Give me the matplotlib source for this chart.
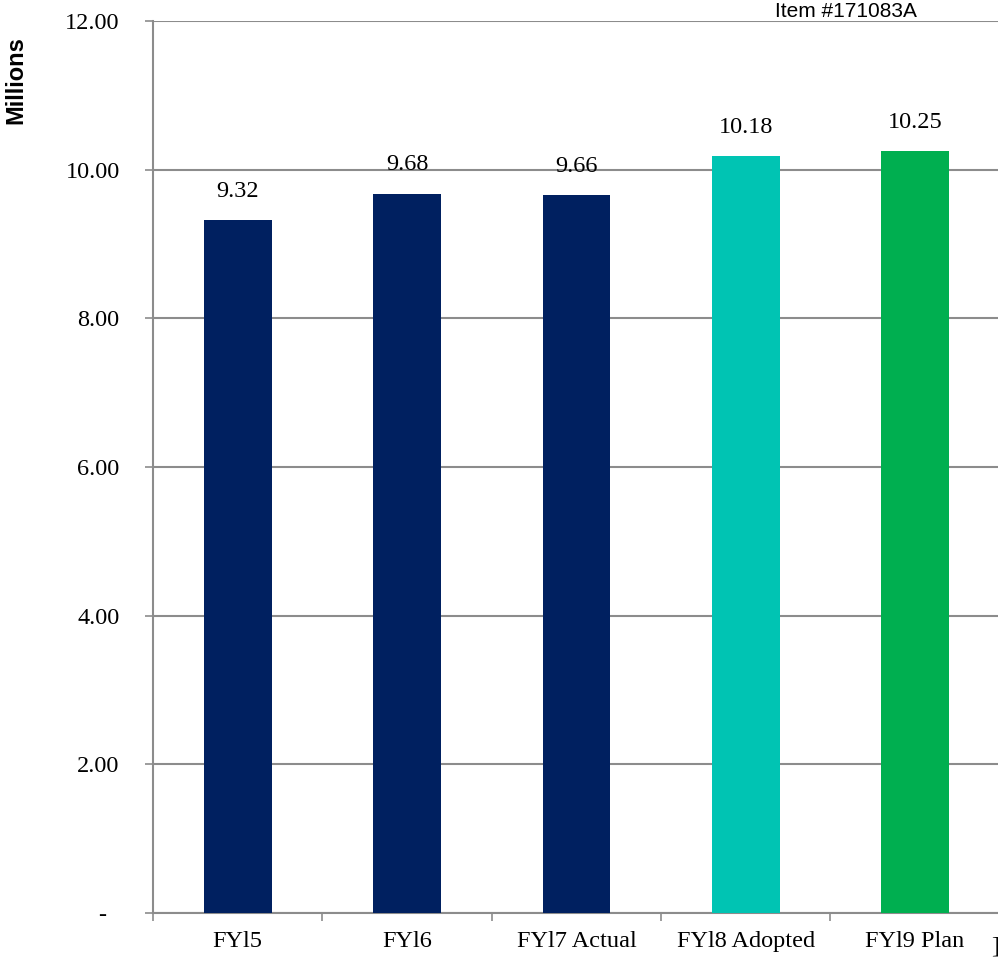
import numpy as np
import matplotlib.pyplot as plt

categories = ['FY15', 'FY16', 'FY17 Actual', 'FY18 Adopted', 'FY19 Plan']
tick_text = ['FYl5', 'FYl6', 'FYl7 Actual', 'FYl8 Adopted', 'FYl9 Plan']
values = [9.32, 9.68, 9.66, 10.18, 10.25]
bar_colors = ['#002060', '#002060', '#002060', '#00C4B3', '#00AF50']
yticks = [0, 2, 4, 6, 8, 10, 12]
ytick_text = ['-  ', '2.00', '4.00', '6.00', '8.00', '10.00', '12.00']

serif = 'Liberation Serif'
sans = 'Liberation Sans'
grey = '#8c8c8c'

fig = plt.figure(figsize=(9.98, 9.59), dpi=100)
ax = fig.add_axes([0.1533, 0.048, 0.8485, 0.930])

x = np.arange(len(values))
ax.bar(x, values, width=0.40, color=bar_colors, zorder=3)

for xi, v in zip(x, values):
    ax.annotate(f'{v:.2f}', (xi, v), xytext=(0, 13), textcoords='offset points',
                ha='center', va='bottom', fontsize=17.5, family=serif)

ax.set_xlim(-0.5, len(values) - 0.5)
ax.set_ylim(0, 12)

ax.set_yticks(yticks)
ax.set_yticklabels(ytick_text, fontsize=17.5, family=serif)
ax.yaxis.grid(True, color=grey, linewidth=1.5, zorder=0)
ax.tick_params(axis='y', length=6, width=1.2, color=grey, pad=18)

# category labels in the middle, tick marks on the boundaries
ax.set_xticks(x)
ax.set_xticklabels(tick_text, fontsize=17.5, family=serif)
ax.set_xticks(np.arange(-0.5, len(values), 1.0), minor=True)
ax.tick_params(axis='x', which='major', length=0, pad=13)
ax.tick_params(axis='x', which='minor', length=6, width=1.2, color=grey)

for s in ['top', 'right']:
    ax.spines[s].set_visible(False)
for s in ['left', 'bottom']:
    ax.spines[s].set_color(grey)
    ax.spines[s].set_linewidth(1.5)

fig.text(0.016, 0.917, 'Millions', rotation=90, ha='center', va='center',
         fontsize=17, fontweight='bold', family=sans)
fig.text(0.848, 0.988, 'Item #171083A', ha='center', va='center',
         fontsize=15, family=sans)
fig.text(0.993, 0.013, ']', ha='left', va='center', fontsize=17.5, family=serif)

fig.savefig('out.png', dpi=100)
